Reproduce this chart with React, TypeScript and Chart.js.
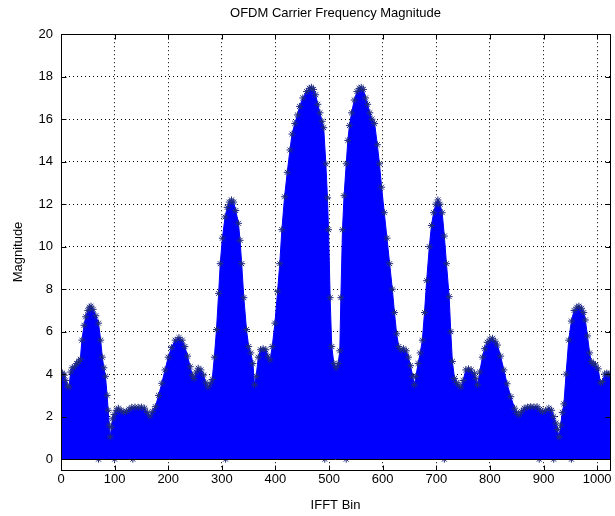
import React, { useEffect, useRef } from "react";
import { Chart, registerables } from "chart.js";

Chart.register(...registerables);

const TITLE = "OFDM Carrier Frequency Magnitude";
const X_LABEL = "IFFT Bin";
const Y_LABEL = "Magnitude";

const xTicks = [0, 100, 200, 300, 400, 500, 600, 700, 800, 900, 1000];
const yTicks = [0, 2, 4, 6, 8, 10, 12, 14, 16, 18, 20];

// envelope of the stem tops (bin, magnitude)
const envBins = [
  0, 3, 6, 9, 12, 15, 18, 21, 25, 29, 33, 36, 39, 43, 46, 50, 53, 56, 60, 65,
  70, 74, 77, 80, 83, 86, 88, 90, 92, 94, 96, 99, 103, 107, 112, 117, 122, 127, 132, 138,
  144, 150, 156, 161, 166, 171, 176, 182, 188, 194, 200, 206, 213, 220, 226, 231, 236, 241, 245, 248,
  252, 256, 261, 266, 270, 274, 278, 282, 286, 290, 294, 297, 301, 306, 310, 314, 318, 322, 326, 331,
  334, 337, 341, 346, 350, 354, 358, 361, 364, 368, 372, 377, 382, 386, 390, 394, 399, 404, 408, 412,
  417, 422, 427, 431, 436, 441, 445, 451, 458, 463, 467, 471, 475, 479, 483, 487, 490, 494, 497, 499,
  502, 505, 509, 513, 517, 520, 522, 525, 528, 532, 535, 538, 542, 547, 552, 556, 560, 564, 568, 572,
  576, 580, 585, 590, 594, 598, 603, 608, 613, 618, 622, 626, 630, 634, 639, 644, 648, 652, 656, 659,
  662, 666, 670, 674, 678, 682, 687, 691, 695, 699, 703, 707, 711, 715, 719, 724, 727, 730, 734, 738,
  742, 746, 750, 755, 760, 765, 771, 774, 777, 781, 786, 790, 795, 800, 805, 810, 814, 820, 826, 832,
  839, 846, 850, 854, 859, 864, 870, 876, 882, 888, 893, 898, 904, 910, 915, 919, 923, 926, 929, 932,
  935, 938, 942, 947, 952, 957, 962, 966, 971, 975, 978, 982, 986, 989, 993, 997, 1002, 1006, 1010, 1014,
  1018, 1021, 1024,
];
const envMag = [
  4.0, 4.05, 3.95, 3.7, 3.45, 3.4, 4.1, 4.3, 4.35, 4.5, 4.6, 4.7, 5.6, 6.3, 6.7, 7.0, 7.15, 7.2, 7.05, 6.75,
  6.4, 5.6, 4.8, 4.3, 3.9, 3.0, 2.3, 1.6, 1.05, 1.5, 1.9, 2.1, 2.3, 2.4, 2.3, 2.22, 2.25, 2.35, 2.44, 2.45,
  2.44, 2.45, 2.4, 2.2, 2.03, 2.25, 2.47, 3.0, 3.57, 4.2, 4.8, 5.25, 5.6, 5.72, 5.6, 5.3, 4.85, 4.35, 3.95, 3.8,
  4.1, 4.28, 4.2, 3.96, 3.6, 3.4, 3.55, 3.75, 4.8, 6.1, 7.8, 9.2, 10.4, 11.4, 11.85, 12.1, 12.2, 12.1, 11.7, 11.1,
  10.3, 9.2, 7.6, 6.1, 5.3, 5.0, 4.5, 3.5, 3.9, 4.8, 5.15, 5.2, 5.15, 4.85, 4.67, 5.3, 6.4, 7.9, 9.2, 10.8,
  12.35, 13.5, 14.55, 15.3, 15.8, 16.2, 16.6, 17.0, 17.3, 17.45, 17.5, 17.4, 17.15, 16.7, 16.3, 15.9, 15.6, 13.9, 12.3, 10.8,
  7.6, 5.3, 4.5, 4.3, 4.5, 5.1, 7.6, 10.8, 12.4, 13.9, 15.0, 15.7, 16.3, 16.9, 17.3, 17.45, 17.5, 17.4, 17.0, 16.7,
  16.3, 16.0, 15.8, 14.8, 13.9, 12.8, 11.6, 10.4, 9.2, 8.0, 6.9, 5.9, 5.3, 5.15, 5.2, 5.1, 4.8, 4.4, 3.9, 3.5,
  3.9, 4.5, 5.0, 5.6, 6.9, 8.4, 10.0, 11.0, 11.6, 12.0, 12.2, 12.0, 11.6, 10.5, 9.2, 7.65, 6.0, 4.6, 3.8, 3.6,
  3.5, 3.4, 3.7, 4.2, 4.25, 4.2, 4.04, 3.8, 3.5, 4.1, 4.8, 5.2, 5.5, 5.65, 5.69, 5.55, 5.37, 4.85, 4.2, 3.55,
  2.94, 2.4, 2.2, 2.08, 2.25, 2.4, 2.45, 2.47, 2.46, 2.47, 2.35, 2.24, 2.3, 2.4, 2.3, 2.0, 1.7, 1.4, 1.05, 1.6,
  2.2, 2.6, 4.0, 5.6, 6.5, 7.0, 7.15, 7.2, 7.1, 6.9, 6.55, 5.8, 5.0, 4.6, 4.5, 4.43, 4.25, 3.6, 3.65, 4.0,
  4.05, 4.0, 4.0,
];

// bins whose stems are (near) zero, visible as markers on the baseline
const zeroBins = [70, 100, 134, 307, 492, 532, 715, 892, 919, 952];

const FONT = "'Liberation Sans', Arial, Helvetica, sans-serif";
const BLUE = "#0000ff";
const STAR = "#1e2a80";

export default function App() {
  const ref = useRef<HTMLCanvasElement | null>(null);

  useEffect(() => {
    const canvas = ref.current;
    if (!canvas) return;

    const framePlugin = {
      id: "matlabFrame",
      afterDatasetsDraw(chart: any) {
        const { ctx, chartArea: a, scales } = chart;
        const xs = scales.x;
        const ys = scales.y;
        const al = (v: number) => Math.round(v) + 0.5;
        ctx.save();
        ctx.strokeStyle = "#000";
        ctx.lineWidth = 1;
        ctx.setLineDash([]);
        // stem baseline at 0
        const y0 = al(ys.getPixelForValue(0));
        ctx.beginPath();
        ctx.moveTo(a.left, y0);
        ctx.lineTo(a.right, y0);
        ctx.stroke();
        // box
        const L = al(a.left), R = al(a.right), T = al(a.top), B = al(a.bottom);
        ctx.strokeRect(L, T, R - L, B - T);
        // inward ticks
        const tl = 5;
        ctx.beginPath();
        xTicks.forEach((v) => {
          const px = al(xs.getPixelForValue(v));
          ctx.moveTo(px, B);
          ctx.lineTo(px, B - tl);
          ctx.moveTo(px, T);
          ctx.lineTo(px, T + tl);
        });
        yTicks.forEach((v) => {
          const py = al(ys.getPixelForValue(v));
          ctx.moveTo(L, py);
          ctx.lineTo(L + tl, py);
          ctx.moveTo(R, py);
          ctx.lineTo(R - tl, py);
        });
        ctx.stroke();
        ctx.restore();
      },
    };

    const tickFont = { family: FONT, size: 13, weight: "normal" as const };

    const chart = new Chart(canvas, {
      type: "line",
      data: {
        datasets: [
          {
            label: "magnitude",
            data: envBins.map((b, i) => ({ x: b, y: envMag[i] })),
            borderColor: BLUE,
            backgroundColor: BLUE,
            borderWidth: 1,
            fill: "origin",
            tension: 0,
            pointStyle: "star",
            pointRadius: 3.5,
            pointBorderColor: STAR,
            pointBackgroundColor: STAR,
            pointBorderWidth: 1,
          },
          {
            label: "zeros",
            data: zeroBins.map((b) => ({ x: b, y: 0 })),
            showLine: false,
            pointStyle: "star",
            pointRadius: 3.5,
            pointBorderColor: STAR,
            pointBorderWidth: 1,
            clip: false as any,
          },
        ],
      },
      options: {
        responsive: false,
        animation: false,
        devicePixelRatio: 1,
        layout: { padding: { left: 0, right: 3, top: 0, bottom: 0 } },
        plugins: {
          legend: { display: false },
          tooltip: { enabled: false },
          title: {
            display: true,
            text: TITLE,
            color: "#000",
            fullSize: false,
            font: { family: FONT, size: 13, weight: "normal" },
            padding: { top: 6, bottom: 12.6 },
          },
        },
        scales: {
          x: {
            type: "linear",
            min: 0,
            max: 1024,
            afterBuildTicks: (s: any) => {
              s.ticks = xTicks.map((v) => ({ value: v }));
            },
            afterFit: (s: any) => {
              s.height = 46.2;
            },
            grid: { color: "#000", lineWidth: 1, drawTicks: false },
            border: { display: false, dash: [1, 3] },
            ticks: {
              color: "#000",
              font: tickFont,
              padding: 2,
              maxRotation: 0,
              autoSkip: false,
              callback: (v: any) => String(v),
            },
            title: {
              display: true,
              text: X_LABEL,
              color: "#000",
              font: tickFont,
              padding: { top: 0, bottom: 2.5 },
            },
          },
          y: {
            type: "linear",
            min: -0.5,
            max: 20,
            afterBuildTicks: (s: any) => {
              s.ticks = yTicks.map((v) => ({ value: v }));
            },
            afterFit: (s: any) => {
              s.width = 61;
            },
            grid: { color: "#000", lineWidth: 1, drawTicks: false },
            border: { display: false, dash: [1, 3] },
            ticks: {
              color: "#000",
              font: tickFont,
              padding: 8,
              autoSkip: false,
              callback: (v: any) => String(v),
            },
            title: {
              display: true,
              text: Y_LABEL,
              color: "#000",
              font: tickFont,
              padding: { top: 11, bottom: 0 },
            },
          },
        },
      },
      plugins: [framePlugin],
    });

    return () => chart.destroy();
  }, []);

  return (
    <div style={{ position: "absolute", left: 0, top: 0, width: 615, height: 516, background: "#fff" }}>
      <canvas ref={ref} width={615} height={516} style={{ display: "block" }} />
    </div>
  );
}
